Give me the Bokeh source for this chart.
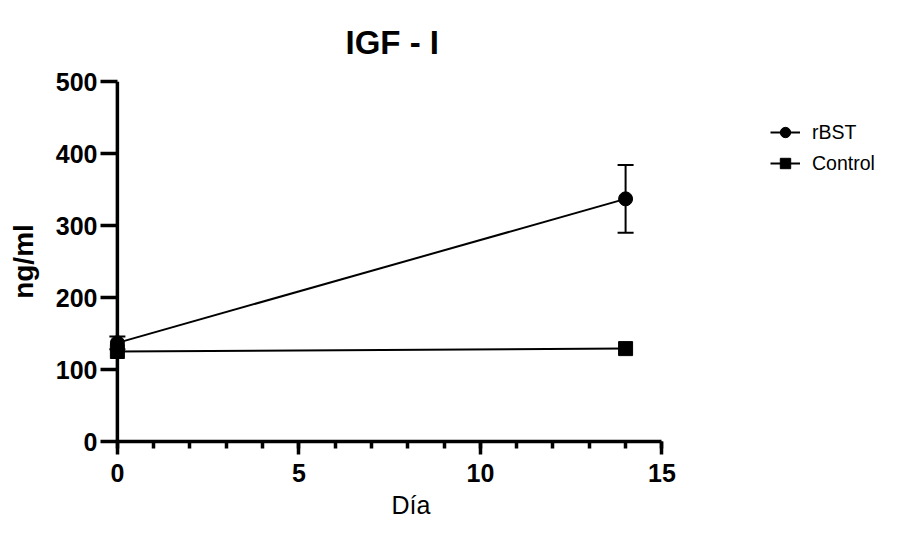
from bokeh.plotting import figure
from bokeh.models import (Range1d, FixedTicker, Whisker, ColumnDataSource, Legend,
                          LegendItem, TeeHead, Span, Title)
from bokeh.embed import file_html
from bokeh.resources import INLINE

# ---- data ----
days = [0, 14]
rbst_mean = [137, 337]
rbst_sem = [9, 47]
control_mean = [125, 129]

x_major = [0, 5, 10, 15]
x_minor = list(range(0, 16))
y_major = [0, 100, 200, 300, 400, 500]

title_text = "IGF - I"
x_label = "Día"
y_label = "ng/ml"
series_names = ["rBST", "Control"]

FONT = "Liberation Sans"
W, H = 883, 523
PX_PER_DAY = 36.3
LEFT = 106

# the frame runs to the right edge so the legend can sit inside it;
# the x axis itself is bounded to 0..15
x_end = -0.3 + (W - LEFT) / PX_PER_DAY

p = figure(width=W, height=H, output_backend="svg", toolbar_location=None,
           x_range=Range1d(-0.3, x_end), y_range=Range1d(0, 500),
           min_border_left=LEFT, min_border_right=0, min_border_top=81,
           min_border_bottom=81)

p.outline_line_color = None
p.grid.visible = False
p.background_fill_color = "white"
p.border_fill_color = "white"

p.add_layout(Title(text=title_text, text_font=FONT, text_font_size="33px",
                   text_font_style="bold", text_color="black", align="left",
                   offset=239, standoff=42), "above")

for ax in (p.xaxis[0], p.yaxis[0]):
    ax.axis_line_width = 3.5
    ax.axis_line_color = "black"
    ax.major_tick_line_width = 3.5
    ax.minor_tick_line_width = 3.5
    ax.major_tick_line_color = "black"
    ax.minor_tick_line_color = "black"
    ax.major_tick_in = 0
    ax.minor_tick_in = 0
    ax.major_label_text_font = FONT
    ax.major_label_text_font_size = "25px"
    ax.major_label_text_font_style = "bold"
    ax.major_label_text_color = "black"
    ax.axis_label_text_font = FONT
    ax.axis_label_text_color = "black"

xa = p.xaxis[0]
xa.ticker = FixedTicker(ticks=x_major, minor_ticks=x_minor)
xa.bounds = (0, 15)
xa.major_tick_out = 13
xa.minor_tick_out = 7
xa.major_label_standoff = 9

p.add_layout(Title(text=x_label, text_font=FONT, text_font_size="25px",
                   text_font_style="normal", text_color="black", align="left",
                   offset=285, standoff=9), "below")

ya = p.yaxis[0]
ya.ticker = FixedTicker(ticks=y_major, minor_ticks=[])
ya.axis_line_color = None
ya.major_tick_in = 11
ya.major_tick_out = 6
ya.minor_tick_out = 0
ya.major_label_standoff = 3
ya.axis_label = y_label
ya.axis_label_text_font_size = "28px"
ya.axis_label_text_font_style = "bold"
ya.axis_label_standoff = 14

# y axis line drawn at x = 0
p.add_layout(Span(location=0, dimension="height", line_color="black",
                  line_width=3.5, level="underlay"))

# ---- series ----
src_r = ColumnDataSource(dict(x=days, y=rbst_mean,
                              lo=[m - s for m, s in zip(rbst_mean, rbst_sem)],
                              hi=[m + s for m, s in zip(rbst_mean, rbst_sem)]))
src_c = ColumnDataSource(dict(x=days, y=control_mean))

p.add_layout(Whisker(source=src_r, base="x", lower="lo", upper="hi",
                     line_color="black", line_width=2,
                     lower_head=TeeHead(size=16, line_width=2, line_color="black"),
                     upper_head=TeeHead(size=16, line_width=2, line_color="black")))

lr = p.line("x", "y", source=src_r, line_color="black", line_width=2)
sr = p.scatter("x", "y", source=src_r, marker="circle", size=14,
               fill_color="black", line_color="black")
lc = p.line("x", "y", source=src_c, line_color="black", line_width=2)
sc = p.scatter("x", "y", source=src_c, marker="square", size=14,
               fill_color="black", line_color="black")

legend = Legend(items=[LegendItem(label=series_names[0], renderers=[lr, sr]),
                       LegendItem(label=series_names[1], renderers=[lc, sc])],
                location=(664, 265))
legend.glyph_width = 30
legend.glyph_height = 26
legend.label_height = 26
legend.spacing = 5
legend.label_standoff = 12
legend.padding = 0
legend.margin = 0
legend.border_line_color = None
legend.background_fill_alpha = 0
legend.label_text_font = FONT
legend.label_text_font_size = "19.5px"
legend.label_text_color = "black"
p.add_layout(legend, "center")

open("out.html", "w").write(file_html(p, INLINE))
